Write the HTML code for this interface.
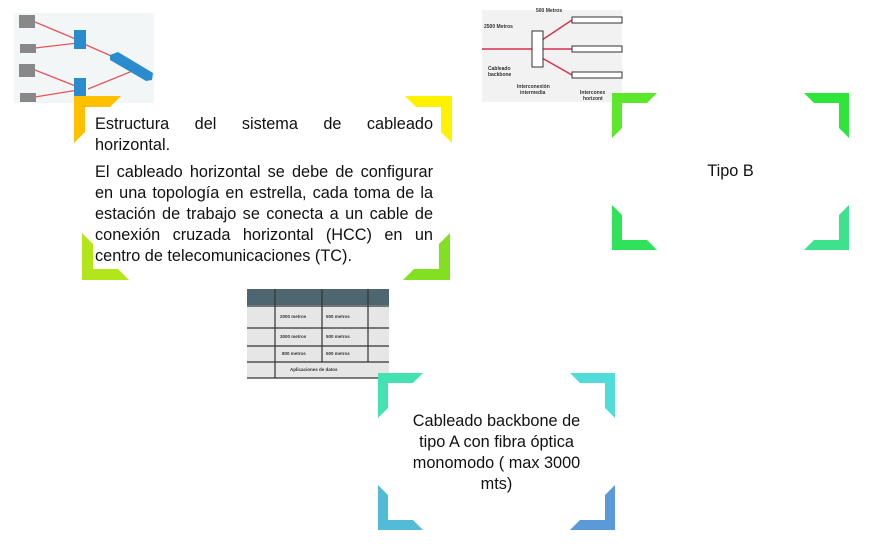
<!DOCTYPE html>
<html><head><meta charset="utf-8"><style>
html,body{margin:0;padding:0;background:#fff;width:890px;height:552px;overflow:hidden;position:relative;font-family:"Liberation Sans",sans-serif;}
svg{position:absolute;left:0;top:0}
.t{position:absolute;color:#111;font-size:16.3px;line-height:21px}
</style></head><body>
<svg width="890" height="552" viewBox="0 0 890 552">
<rect x="14" y="13" width="140" height="90" fill="#f3f6f6"/>
<g stroke="#e8545a" stroke-width="1.3">
<line x1="35" y1="22" x2="78" y2="40"/><line x1="35" y1="48" x2="78" y2="43"/>
<line x1="35" y1="70" x2="78" y2="87"/><line x1="35" y1="97" x2="78" y2="90"/>
<line x1="84" y1="44" x2="125" y2="62"/><line x1="88" y1="89" x2="135" y2="70"/>
</g>
<g fill="#888"><rect x="19" y="15" width="16" height="13"/><rect x="20" y="44" width="16" height="9"/><rect x="19" y="64" width="16" height="13"/><rect x="20" y="93" width="16" height="9"/></g>
<g fill="#2a8ccc"><rect x="74" y="30" width="12" height="19"/><rect x="74" y="78" width="12" height="19"/>
<polygon points="110,55 118,52 153,73 152,80 146,81 110,60"/></g>
<rect x="482" y="10" width="140" height="92" fill="#f2f2f2"/>
<g stroke="#d83050" stroke-width="1.5"><line x1="482" y1="49" x2="622" y2="49"/><line x1="542" y1="40" x2="572" y2="20"/><line x1="542" y1="58" x2="572" y2="75"/></g>
<rect x="532" y="31" width="11" height="36" fill="#fff" stroke="#333" stroke-width="1"/>
<g fill="#fff" stroke="#333" stroke-width="1"><rect x="572" y="17" width="50" height="6"/><rect x="572" y="46" width="50" height="6"/><rect x="572" y="72" width="50" height="6"/></g>
<g font-size="5" font-weight="bold" fill="#333" font-family="Liberation Sans"><text x="484" y="28">2500 Metros</text><text x="536" y="12">500 Metros</text><text x="488" y="70">Cableado</text><text x="488" y="76">backbone</text><text x="517" y="88">Interconexión</text><text x="520" y="94">intermedia</text><text x="580" y="94">Interconex</text><text x="583" y="100">horizont</text></g>
<rect x="247" y="289" width="142" height="89" fill="#e6e6e6"/>
<rect x="247" y="289" width="142" height="16" fill="#4d6670"/>
<g stroke="#333" stroke-width="1.2"><line x1="247" y1="306" x2="389" y2="306"/><line x1="247" y1="328" x2="389" y2="328"/><line x1="247" y1="346" x2="389" y2="346"/><line x1="247" y1="362" x2="389" y2="362"/><line x1="247" y1="378" x2="389" y2="378"/><line x1="275" y1="289" x2="275" y2="378"/><line x1="322" y1="289" x2="322" y2="362"/><line x1="368" y1="289" x2="368" y2="362"/></g>
<g font-size="4.5" font-weight="bold" fill="#333" font-family="Liberation Sans"><text x="280" y="318">2000 metros</text><text x="326" y="318">500 metros</text><text x="280" y="338">3000 metros</text><text x="326" y="338">500 metros</text><text x="282" y="355">800 metros</text><text x="326" y="355">500 metros</text><text x="290" y="371">Aplicaciones de datos</text></g>
</svg>
<svg width="890" height="552" viewBox="0 0 890 552">
<polygon fill="#ffc000" points="74,96 121,96 110,107 85,107 85,132 74,143"/>
<polygon fill="#fff200" points="452,96 405,96 416,107 441,107 441,132 452,143"/>
<polygon fill="#b2e61a" points="82,280 129,280 118,269 93,269 93,244 82,233"/>
<polygon fill="#82e020" points="450,280 403,280 414,269 439,269 439,244 450,233"/>
<polygon fill="#5ce82a" points="612,93 657,93 647,103 622,103 622,128 612,138"/>
<polygon fill="#2ee53a" points="849,93 804,93 814,103 839,103 839,128 849,138"/>
<polygon fill="#30e25a" points="612,250 657,250 647,240 622,240 622,215 612,205"/>
<polygon fill="#3ee28c" points="849,250 804,250 814,240 839,240 839,215 849,205"/>
<polygon fill="#44e2b0" points="378,373 423,373 413,383 388,383 388,408 378,418"/>
<polygon fill="#50dcd8" points="615,373 570,373 580,383 605,383 605,408 615,418"/>
<polygon fill="#52bcd8" points="378,530 423,530 413,520 388,520 388,495 378,485"/>
<polygon fill="#5b9ad6" points="615,530 570,530 580,520 605,520 605,495 615,485"/>
</svg>
<div class="t" style="left:95px;top:114px;width:338px;text-align:justify;text-align-last:justify">Estructura del sistema de cableado</div>
<div class="t" style="left:95px;top:135px;width:338px">horizontal.</div>
<div class="t" style="left:95px;top:162px;width:338px;text-align:justify">El cableado horizontal se debe de configurar en una topología en estrella, cada toma de la estación de trabajo se conecta a un cable de conexión cruzada horizontal (HCC) en un centro de telecomunicaciones (TC).</div>
<div class="t" style="left:612px;top:161px;width:237px;text-align:center">Tipo B</div>
<div class="t" style="left:401px;top:411px;width:191px;text-align:center">Cableado backbone de tipo A con fibra óptica monomodo ( max 3000 mts)</div>
</body></html>
